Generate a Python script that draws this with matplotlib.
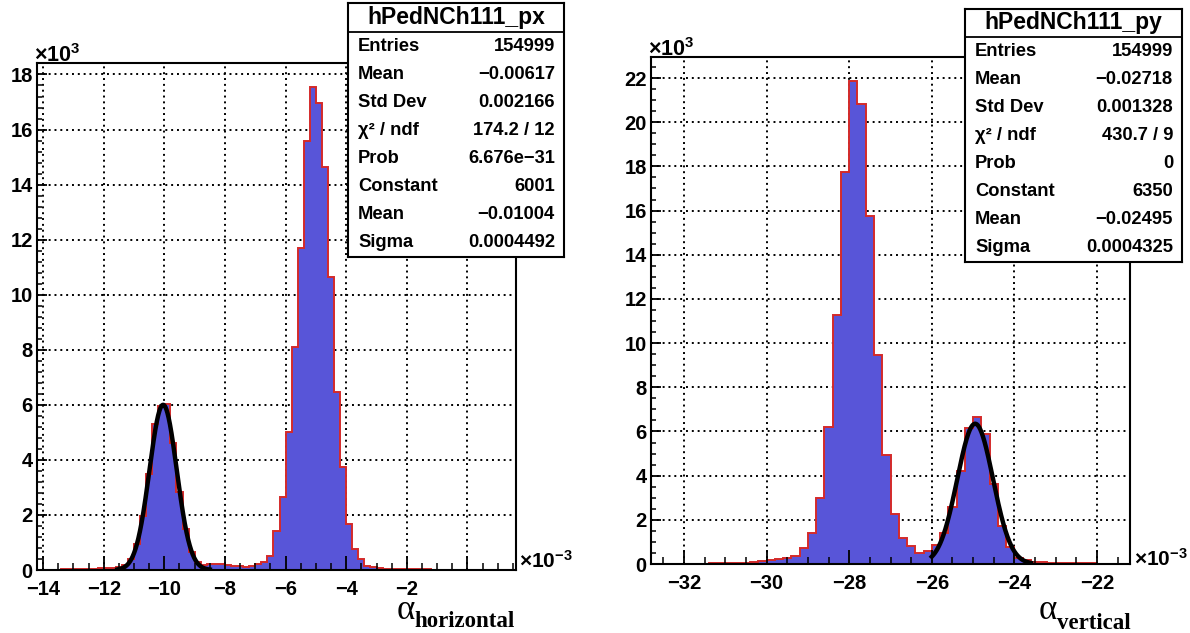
"""Two ROOT-style pedestal histograms (px / py) with Gaussian fits and stat boxes."""

import numpy as np
import matplotlib
matplotlib.use("Agg")
import matplotlib.pyplot as plt
from matplotlib.ticker import MultipleLocator

plt.rcParams["font.family"] = ["Liberation Sans", "DejaVu Sans"]
plt.rcParams["mathtext.default"] = "regular"

W, H = 1190, 633

# bin contents in units of 1e3 entries, bins of 0.2e-3 rad
PX_RANGE = (-14.2, 1.6)
px_counts = [
    0.0, 0.0, 0.01, 0.01, 0.02, 0.02, 0.03, 0.05, 0.05, 0.05,
    0.06, 0.08, 0.08, 0.12, 0.18, 0.40, 0.95, 1.95, 3.50, 5.30,
    5.95, 6.03, 4.60, 2.85, 1.50, 0.65, 0.30, 0.18, 0.20, 0.20,
    0.21, 0.18, 0.15, 0.14, 0.12, 0.16, 0.22, 0.29, 0.50, 1.42,
    2.64, 5.00, 8.10, 11.70, 15.60, 17.54, 16.97, 14.64, 10.65, 6.46,
    3.75, 1.66, 0.75, 0.39, 0.15, 0.10, 0.07, 0.05, 0.04, 0.03,
    0.03, 0.02, 0.02, 0.02, 0.02, 0.01, 0.01, 0.01, 0.01, 0.01,
    0.01, 0.01, 0.01, 0.0, 0.0, 0.0, 0.0, 0.0, 0.0,
]
PY_RANGE = (-32.8, -21.2)
py_counts = [
    0.0, 0.01, 0.01, 0.01, 0.02, 0.02, 0.02, 0.03, 0.03, 0.03,
    0.04, 0.05, 0.08, 0.12, 0.17, 0.22, 0.27, 0.35, 0.72, 1.40,
    2.99, 6.18, 11.28, 17.76, 21.86, 20.84, 15.76, 9.45, 4.95, 2.28,
    1.19, 0.80, 0.50, 0.59, 0.86, 1.40, 2.60, 4.19, 6.15, 6.65,
    5.90, 3.63, 1.70, 0.79, 0.27, 0.19, 0.11, 0.08, 0.06, 0.05,
    0.04, 0.04, 0.03, 0.03, 0.02, 0.02, 0.02, 0.01,
]

# gaussian fit parameters (constant, mean, sigma) and fit range (1e-3)
px_fit = (6001, -0.01004, 0.0004492)
px_fit_range = (-11.55, -8.5)
py_fit = (6350, -0.02495, 0.0004325)
py_fit_range = (-26.0, -23.6)

px_stats = [("Entries", "154999"), ("Mean", "\u22120.00617"), ("Std Dev", "0.002166"),
            ("\u03c7\u00b2 / ndf", "174.2 / 12"), ("Prob", "6.676e\u221231"),
            ("Constant", "6001"), ("Mean", "\u22120.01004"), ("Sigma", "0.0004492")]
py_stats = [("Entries", "154999"), ("Mean", "\u22120.02718"), ("Std Dev", "0.001328"),
            ("\u03c7\u00b2 / ndf", "430.7 / 9"), ("Prob", "0"),
            ("Constant", "6350"), ("Mean", "\u22120.02495"), ("Sigma", "0.0004325")]

px_xticks = [-14, -12, -10, -8, -6, -4, -2, 0]
py_xticks = [-32, -30, -28, -26, -24, -22]

FILL = "#5855d8"
EDGE = "#d42a2a"


def frac(x0, y0, x1, y1):
    return [x0 / W, (H - y1) / H, (x1 - x0) / W, (y1 - y0) / H]


def draw_panel(ax, counts, rng, fit, fit_rng, xticks, yminor):
    counts = np.asarray(counts)
    edges = np.linspace(rng[0], rng[1], len(counts) + 1)
    ymax = counts.max() * 1.05
    ax.stairs(counts, edges, fill=True, color=FILL, zorder=1)
    ax.stairs(counts, edges, color=EDGE, lw=1.4, zorder=1.2)

    c, m, s = fit
    xf = np.linspace(fit_rng[0], fit_rng[1], 300)
    yf = c / 1e3 * np.exp(-0.5 * ((xf - m * 1e3) / (s * 1e3)) ** 2)
    ax.plot(xf, yf, color="black", lw=3.2, zorder=3)

    ax.set_xlim(*rng)
    ax.set_ylim(0, ymax)
    yticks = np.arange(0, ymax, 2)
    for v in xticks:
        ax.axvline(v, color="black", ls=(0, (1, 2)), lw=1.4, zorder=0.5)
    for v in yticks[1:]:
        ax.axhline(v, color="black", ls=(0, (1, 2)), lw=1.4, zorder=0.5)

    ax.set_xticks(xticks)
    ax.set_xticklabels(["" if v == 0 else f"{v:d}".replace("-", "\u2212") for v in xticks])
    ax.set_yticks(yticks)
    ax.set_yticklabels([f"{int(v)}" for v in yticks])
    ax.xaxis.set_minor_locator(MultipleLocator(0.5))
    ax.yaxis.set_minor_locator(MultipleLocator(yminor))
    ax.tick_params(which="both", direction="in", top=False, right=False)
    ax.tick_params(axis="x", which="major", length=10, width=1.3, labelsize=14.5, pad=7.5)
    ax.tick_params(axis="x", which="minor", length=5, width=1.1)
    ax.tick_params(axis="y", which="major", length=7, width=1.3, labelsize=14.5, pad=3)
    ax.tick_params(axis="y", which="minor", length=3.5, width=1.1)
    for lbl in ax.get_xticklabels() + ax.get_yticklabels():
        lbl.set_fontweight("bold")
    for sp in ax.spines.values():
        sp.set_linewidth(1.5)


def stat_box(fig, rect, title, rows, head):
    x0, y0, x1, y1 = rect
    h, w = y1 - y0, x1 - x0
    bx = fig.add_axes(frac(*rect))
    bx.set_xlim(0, 1)
    bx.set_ylim(0, 1)
    bx.set_xticks([])
    bx.set_yticks([])
    for sp in bx.spines.values():
        sp.set_linewidth(1.5)
    bx.axhline(1 - head / h, color="black", lw=1.3)
    bx.text(0.5, 1 - head / 2 / h, title, ha="center", va="center",
            fontsize=16.5, fontweight="bold")
    row_h = (h - head) / len(rows)
    for i, (k, v) in enumerate(rows):
        y = 1 - (head + row_h * (i + 0.5)) / h
        bx.text(10 / w, y, k, ha="left", va="center", fontsize=13.2, fontweight="bold")
        bx.text(1 - 9 / w, y, v, ha="right", va="center", fontsize=13.2, fontweight="bold")


def axis_title(fig, x_right, y_base, sub, alpha_drop):
    r = fig.canvas.get_renderer()
    t = fig.text(x_right / W, 1 - y_base / H, sub, ha="right", va="baseline",
                 fontsize=16.5, fontweight="bold", family="Liberation Serif")
    bb = t.get_window_extent(r)
    fig.text(bb.x0 / W, 1 - (y_base - alpha_drop) / H, "\u03b1", ha="right", va="baseline",
             fontsize=25, family="Liberation Serif")


fig = plt.figure(figsize=(W / 100, H / 100), dpi=100)
fig.patch.set_facecolor("white")

ax1 = fig.add_axes(frac(37, 63, 516, 570))
draw_panel(ax1, px_counts, PX_RANGE, px_fit, px_fit_range, px_xticks, 0.4)
ax2 = fig.add_axes(frac(651, 57, 1130, 564))
draw_panel(ax2, py_counts, PY_RANGE, py_fit, py_fit_range, py_xticks, 0.5)

# exponent labels
fig.text(34 / W, 1 - 62 / H, "\u00d710$^{3}$", ha="left", va="baseline",
         fontsize=15.5, fontweight="bold")
fig.text(648 / W, 1 - 56 / H, "\u00d710$^{3}$", ha="left", va="baseline",
         fontsize=15.5, fontweight="bold")
fig.text(519 / W, 1 - 568 / H, "\u00d710$^{\u22123}$", ha="left", va="baseline",
         fontsize=15, fontweight="bold")
fig.text(1134 / W, 1 - 566 / H, "\u00d710$^{\u22123}$", ha="left", va="baseline",
         fontsize=15, fontweight="bold")

axis_title(fig, 515, 627, "horizontal", 8)
axis_title(fig, 1131, 629, "vertical", 10)

stat_box(fig, (348, 3, 564, 257), "hPedNCh111_px", px_stats, 29)
stat_box(fig, (965, 9, 1182, 262), "hPedNCh111_py", py_stats, 28)

fig.savefig("out.png", dpi=100, facecolor="white")
